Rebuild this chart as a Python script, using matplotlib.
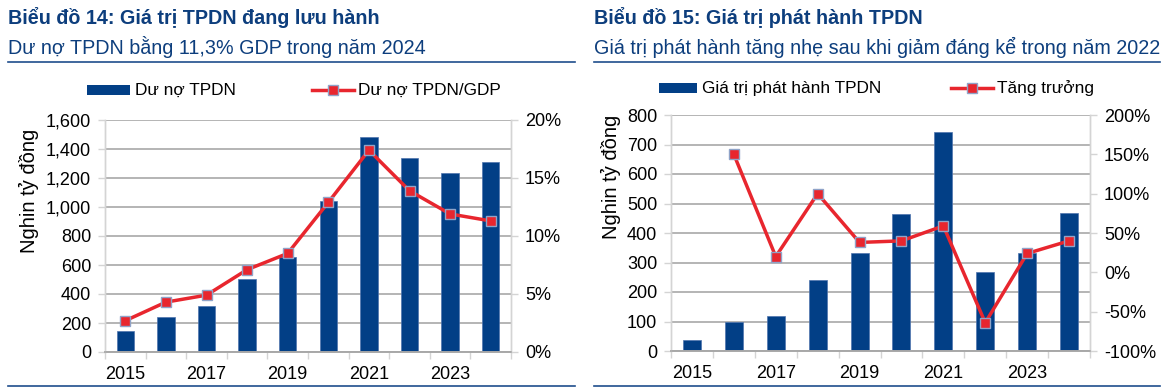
import numpy as np
import matplotlib.pyplot as plt
from matplotlib.lines import Line2D
from matplotlib.patches import Rectangle
from matplotlib.ticker import FuncFormatter, MultipleLocator

plt.rcParams['font.family'] = ['Liberation Sans', 'DejaVu Sans']

# --- dữ liệu ---
years = [2015, 2016, 2017, 2018, 2019, 2020, 2021, 2022, 2023, 2024]
du_no = [142, 238, 314, 502, 658, 1043, 1484, 1339, 1236, 1307]          # nghìn tỷ đồng
du_no_gdp = [2.7, 4.3, 4.9, 7.1, 8.5, 12.9, 17.4, 13.9, 11.9, 11.3]      # %
phat_hanh = [38, 100, 119, 239, 332, 466, 742, 269, 333, 467]            # nghìn tỷ đồng
tang_truong = [np.nan, 150, 20, 100, 38, 40, 59, -64, 24, 40]            # %

NAVY = '#023f86'
RED = '#e8262e'
MEDGE = '#8fa3c8'
TITLE = '#0d3e7d'
GRID = '#a8a8a8'
AXIS = '#d4d4d4'
W, H = 1168, 392

fig = plt.figure(figsize=(W / 100, H / 100), dpi=100)


def px(x, y):
    return x / W, 1 - y / H


def style_axes(ax, axr):
    n = len(years)
    ax.set_xlim(-0.5, n - 0.5)
    ax.set_xticks(np.arange(n)[::2])
    ax.set_xticklabels([str(y) for y in years[::2]])
    ax.set_xticks(np.arange(-0.5, n, 1), minor=True)
    ax.tick_params(axis='x', which='major', length=0, pad=10, labelsize=13)
    ax.tick_params(axis='x', which='minor', length=5, color=AXIS, width=1)
    ax.tick_params(axis='y', length=5, color=AXIS, width=1, labelsize=13, pad=5)
    axr.tick_params(axis='y', length=5, color=AXIS, width=1, labelsize=13, pad=5)
    ax.grid(axis='y', color=GRID, linewidth=1.2)
    ax.set_axisbelow(True)
    for a in (ax, axr):
        a.spines['top'].set_visible(False)
        for sp in ['left', 'right']:
            a.spines[sp].set_color(AXIS)
            a.spines[sp].set_linewidth(1)
        a.spines['bottom'].set_color(GRID)
        a.spines['bottom'].set_linewidth(1.2)
    axr.set_zorder(ax.get_zorder() + 1)
    axr.patch.set_visible(False)


x = np.arange(len(years))

# ===== Biểu đồ 14 =====
l, b = px(105, 352)
ax1 = fig.add_axes([l, b, 406 / W, 232 / H])
ax1r = ax1.twinx()
ax1.bar(x, du_no, width=0.43, color=NAVY, edgecolor='#4f74ad', linewidth=0.5, zorder=2)
ax1r.plot(x, du_no_gdp, color=RED, linewidth=2.5, marker='s', markersize=7,
          markerfacecolor=RED, markeredgecolor=MEDGE, markeredgewidth=1, zorder=3)
ax1.set_ylim(0, 1600)
ax1.yaxis.set_major_locator(MultipleLocator(200))
ax1.yaxis.set_major_formatter(FuncFormatter(lambda v, p: f'{v:,.0f}'))
ax1r.set_ylim(0, 20)
ax1r.yaxis.set_major_locator(MultipleLocator(5))
ax1r.yaxis.set_major_formatter(FuncFormatter(lambda v, p: f'{v:.0f}%'))
ax1.set_ylabel('Nghin tỷ đồng', fontsize=14.5)
ax1.yaxis.set_label_coords((39 - 105) / 406, (352 - 191) / 232)
style_axes(ax1, ax1r)

# ===== Biểu đồ 15 =====
l, b = px(671, 351)
ax2 = fig.add_axes([l, b, 419 / W, 236 / H])
ax2r = ax2.twinx()
ax2.bar(x, phat_hanh, width=0.43, color=NAVY, edgecolor='#4f74ad', linewidth=0.5, zorder=2)
ax2r.plot(x, tang_truong, color=RED, linewidth=2.5, marker='s', markersize=7,
          markerfacecolor=RED, markeredgecolor=MEDGE, markeredgewidth=1, zorder=3)
ax2.set_ylim(0, 800)
ax2.yaxis.set_major_locator(MultipleLocator(100))
ax2r.set_ylim(-100, 200)
ax2r.yaxis.set_major_locator(MultipleLocator(50))
ax2r.yaxis.set_major_formatter(FuncFormatter(lambda v, p: f'{v:.0f}%'))
ax2.set_ylabel('Nghin tỷ đồng', fontsize=14.5)
ax2.yaxis.set_label_coords((621 - 671) / 419, (351 - 177) / 236)
style_axes(ax2, ax2r)

# ===== tiêu đề =====
titles = [
    (8, 'Biểu đồ 14: Giá trị TPDN đang lưu hành', 'Dư nợ TPDN bằng 11,3% GDP trong năm 2024'),
    (594, 'Biểu đồ 15: Giá trị phát hành TPDN', 'Giá trị phát hành tăng nhẹ sau khi giảm đáng kể trong năm 2022'),
]
for x0, t1, t2 in titles:
    fig.text(*px(x0, 18), t1, fontsize=14.2, fontweight='bold', color=TITLE, va='center')
    fig.text(*px(x0, 47), t2, fontsize=14.2, color=TITLE, va='center')

for x0, x1 in ((8, 575), (594, 1160)):
    for yy in (62, 386):
        fig.add_artist(Line2D([x0 / W, x1 / W], [1 - yy / H, 1 - yy / H],
                              color='#1f4e8c', linewidth=1.2))


# ===== chú thích (vẽ tay cho đúng vị trí) =====
def legend_item_bar(x0, x1, y, label):
    fig.add_artist(Rectangle(px(x0, y + 5), (x1 - x0) / W, 10 / H, facecolor=NAVY,
                             edgecolor='none', transform=fig.transFigure))
    fig.text(*px(x1 + 5, y), label, fontsize=12.4, va='center')


def legend_item_line(x0, x1, y, label):
    fig.add_artist(Line2D([x0 / W, x1 / W], [1 - y / H, 1 - y / H], color=RED, linewidth=2.5))
    fig.add_artist(Line2D([(x0 + x1) / 2 / W], [1 - y / H], marker='s', markersize=7,
                          markerfacecolor=RED, markeredgecolor=MEDGE, markeredgewidth=1))
    fig.text(*px(x1 + 4, y), label, fontsize=12.4, va='center')


legend_item_bar(87, 130, 90, 'Dư nợ TPDN')
legend_item_line(312, 354, 90, 'Dư nợ TPDN/GDP')
legend_item_bar(659, 697, 88, 'Giá trị phát hành TPDN')
legend_item_line(951, 993, 88, 'Tăng trưởng')

fig.savefig('out.png', dpi=100)
